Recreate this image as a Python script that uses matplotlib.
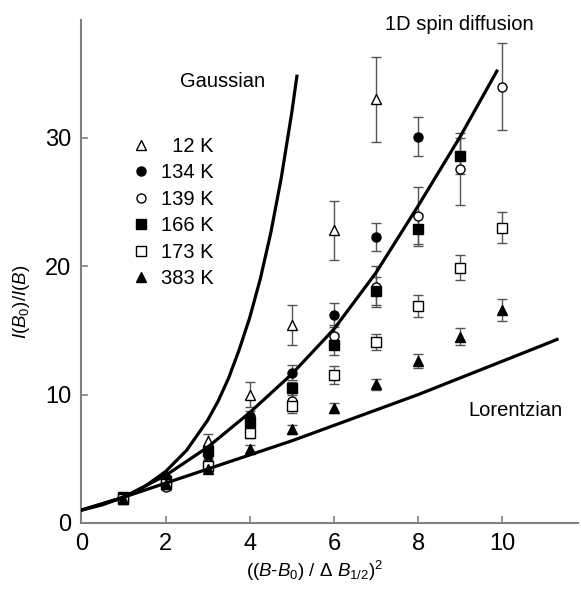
import numpy as np
import matplotlib.pyplot as plt

plt.rcParams["font.family"] = ["Liberation Sans", "DejaVu Sans"]
plt.rcParams["mathtext.fontset"] = "custom"
plt.rcParams["mathtext.rm"] = "Liberation Sans"
plt.rcParams["mathtext.it"] = "Liberation Sans:italic"

# measured points, x = ((B-B0)/dB_1/2)^2
x_12 = [1, 2, 3, 4, 5, 6, 7]
y_12 = [2.0, 3.7, 6.35, 10.0, 15.4, 22.8, 33.0]
e_12 = [0.1, 0.3, 0.6, 1.0, 1.55, 2.3, 3.3]

x_134 = [1, 2, 3, 4, 5, 6, 7, 8]
y_134 = [2.0, 3.5, 5.3, 8.3, 11.7, 16.2, 22.3, 30.1]
e_134 = [0.1, 0.2, 0.3, 0.4, 0.6, 0.9, 1.1, 1.5]

x_139 = [1, 2, 3, 4, 5, 6, 7, 8, 9, 10]
y_139 = [1.9, 2.8, 4.6, 7.3, 9.5, 14.6, 18.4, 23.9, 27.6, 34.0]
e_139 = [0.1, 0.2, 0.3, 0.5, 0.6, 0.8, 1.6, 2.3, 2.8, 3.4]

x_166 = [1, 2, 3, 4, 5, 6, 7, 8, 9]
y_166 = [2.0, 3.3, 5.6, 7.9, 10.5, 13.9, 18.1, 22.9, 28.6]
e_166 = [0.1, 0.2, 0.3, 0.4, 0.5, 0.8, 1.1, 1.2, 1.4]

x_173 = [1, 2, 3, 4, 5, 6, 7, 8, 9, 10]
y_173 = [1.9, 3.0, 4.4, 7.0, 9.1, 11.5, 14.1, 16.9, 19.9, 23.0]
e_173 = [0.1, 0.2, 0.3, 0.4, 0.5, 0.7, 0.65, 0.85, 0.95, 1.2]

x_383 = [1, 2, 3, 4, 5, 6, 7, 8, 9, 10]
y_383 = [1.9, 3.0, 4.2, 5.75, 7.3, 8.95, 10.8, 12.6, 14.5, 16.6]
e_383 = [0.1, 0.15, 0.2, 0.3, 0.35, 0.4, 0.45, 0.55, 0.65, 0.85]

# model curves
gauss_x = [0, 0.5, 1, 1.5, 2, 2.5, 3, 3.25, 3.5, 3.75, 4, 4.25, 4.5, 4.75, 5, 5.12]
gauss_y = [1.0, 1.41, 2.0, 2.83, 4.0, 5.66, 8.0, 9.5, 11.3, 13.5, 16.0, 19.0, 22.6, 26.9, 32.0, 34.8]

diff_x = [0, 1, 2, 3, 4, 5, 6, 7, 8, 9, 9.87]
diff_y = [1.0, 2.0, 3.7, 5.9, 8.6, 11.6, 15.1, 19.5, 24.7, 30.1, 35.2]

lor_x = [0, 1, 2, 3, 4, 5, 6, 7, 8, 9, 10, 11, 11.3]
lor_y = [1.0, 2.0, 3.1, 4.2, 5.3, 6.4, 7.6, 8.8, 10.0, 11.3, 12.6, 13.9, 14.3]

series = [
    (x_12, y_12, e_12, "^", "white", "  12 K"),
    (x_134, y_134, e_134, "o", "black", "134 K"),
    (x_139, y_139, e_139, "o", "white", "139 K"),
    (x_166, y_166, e_166, "s", "black", "166 K"),
    (x_173, y_173, e_173, "s", "white", "173 K"),
    (x_383, y_383, e_383, "^", "black", "383 K"),
]

fig = plt.figure(figsize=(5.81, 5.92), dpi=100)
ax = fig.add_axes([0.140, 0.1166, 0.855, 0.85])

handles = []
for xs, ys, es, m, fc, lab in series:
    eb = ax.errorbar(xs, ys, yerr=es, fmt=m, mfc=fc, mec="black", mew=1.0, ms=6.5,
                     ecolor="#555555", elinewidth=1.0, capsize=3.5, capthick=1.0,
                     label=lab, zorder=2)
    handles.append(eb[0])

for cx, cy in [(gauss_x, gauss_y), (diff_x, diff_y), (lor_x, lor_y)]:
    ax.plot(cx, cy, color="black", lw=2.3, solid_joinstyle="round", zorder=3)

ax.text(4.36, 34.4, "Gaussian", fontsize=14.5, ha="right", va="center")
ax.text(7.22, 38.8, "1D spin diffusion", fontsize=14.5, ha="left", va="center")
ax.text(9.2, 8.8, "Lorentzian", fontsize=14.5, ha="left", va="center")

ax.set_xlim(0, 11.8)
ax.set_ylim(0, 39.2)
ax.set_xticks([0, 2, 4, 6, 8, 10])
ax.set_yticks([0, 10, 20, 30])
for s in ["top", "right"]:
    ax.spines[s].set_visible(False)
for s in ["left", "bottom"]:
    ax.spines[s].set_color("#808080")
    ax.spines[s].set_linewidth(1.5)
ax.tick_params(direction="in", length=5, width=1.2, color="#808080",
               labelsize=17, pad=7)

ax.set_xlabel(r"(($B$-$B_0$) / $\mathit{\Delta}$ $B_{1/2}$)$^2$", fontsize=13.5)
ax.set_ylabel(r"$I$($B_0$)/$I$($B$)", fontsize=13.5)
ax.xaxis.set_label_coords(0.47, -0.072)
ax.yaxis.set_label_coords(-0.10, 0.44)

leg = ax.legend(handles=handles, labels=[s[5] for s in series],
                loc="upper left", bbox_to_anchor=(0.10, 0.767), frameon=False,
                borderaxespad=0, borderpad=0, handlelength=1.0, handletextpad=0.5,
                labelspacing=0.37, fontsize=14.5)

fig.savefig("out.png", dpi=100)
